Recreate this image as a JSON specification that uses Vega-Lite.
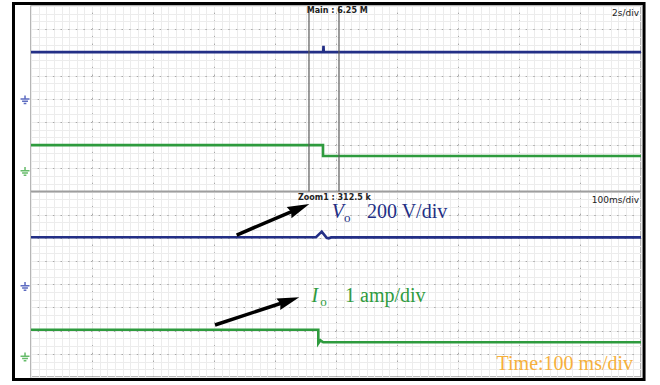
{
  "$schema": "https://vega.github.io/schema/vega-lite/v6.json",
  "width": 610,
  "height": 371,
  "autosize": {"type": "none"},
  "padding": {"left": 31, "top": 6, "right": 19, "bottom": 8},
  "background": "white",
  "config": {"view": {"stroke": "#9e9e9e", "strokeWidth": 1.5}},
  "resolve": {"axis": {"x": "independent", "y": "independent"}},
  "layer": [
    {
      "data": {"values": [
        {"key": "Vo-main", "sig": "Vo", "i": 0, "t": 0, "v": 14.01},
        {"key": "Vo-main", "sig": "Vo", "i": 1, "t": 4.79, "v": 14.01},
        {"key": "Vo-main", "sig": "Vo", "i": 2, "t": 4.795, "v": 14.28},
        {"key": "Vo-main", "sig": "Vo", "i": 3, "t": 4.8, "v": 14.01},
        {"key": "Vo-main", "sig": "Vo", "i": 4, "t": 10, "v": 14.01},
        {"key": "Io-main", "sig": "Io", "i": 0, "t": 0, "v": 10.0},
        {"key": "Io-main", "sig": "Io", "i": 1, "t": 4.787, "v": 10.0},
        {"key": "Io-main", "sig": "Io", "i": 2, "t": 4.787, "v": 9.53},
        {"key": "Io-main", "sig": "Io", "i": 3, "t": 10, "v": 9.53},
        {"key": "Vo-zoom", "sig": "Vo", "i": 0, "t": 0, "v": 6.03},
        {"key": "Vo-zoom", "sig": "Vo", "i": 1, "t": 4.672, "v": 6.03},
        {"key": "Vo-zoom", "sig": "Vo", "i": 2, "t": 4.766, "v": 6.27},
        {"key": "Vo-zoom", "sig": "Vo", "i": 3, "t": 4.847, "v": 6.0},
        {"key": "Vo-zoom", "sig": "Vo", "i": 4, "t": 4.88, "v": 5.98},
        {"key": "Vo-zoom", "sig": "Vo", "i": 5, "t": 4.92, "v": 6.02},
        {"key": "Vo-zoom", "sig": "Vo", "i": 6, "t": 10, "v": 6.02},
        {"key": "Io-zoom", "sig": "Io", "i": 0, "t": 0, "v": 2.04},
        {"key": "Io-zoom", "sig": "Io", "i": 1, "t": 4.71, "v": 2.04},
        {"key": "Io-zoom", "sig": "Io", "i": 2, "t": 4.71, "v": 1.45},
        {"key": "Io-zoom", "sig": "Io", "i": 3, "t": 4.745, "v": 1.58},
        {"key": "Io-zoom", "sig": "Io", "i": 4, "t": 4.79, "v": 1.5},
        {"key": "Io-zoom", "sig": "Io", "i": 5, "t": 10, "v": 1.5}
      ]},
      "mark": {"type": "line", "strokeWidth": 2.6, "interpolate": "linear"},
      "encoding": {
        "x": {"field": "t", "type": "quantitative",
          "scale": {"domain": [0, 10], "nice": false, "zero": false},
          "axis": {"orient": "bottom", "title": null, "labels": false, "ticks": false, "domain": false,
            "grid": true, "gridColor": "#ececec", "gridWidth": 1,
            "values": [0,0.125,0.25,0.375,0.5,0.625,0.75,0.875,1,1.125,1.25,1.375,1.5,1.625,1.75,1.875,2,2.125,2.25,2.375,2.5,2.625,2.75,2.875,3,3.125,3.25,3.375,3.5,3.625,3.75,3.875,4,4.125,4.25,4.375,4.5,4.625,4.75,4.875,5,5.125,5.25,5.375,5.5,5.625,5.75,5.875,6,6.125,6.25,6.375,6.5,6.625,6.75,6.875,7,7.125,7.25,7.375,7.5,7.625,7.75,7.875,8,8.125,8.25,8.375,8.5,8.625,8.75,8.875,9,9.125,9.25,9.375,9.5,9.625,9.75,9.875,10]}},
        "y": {"field": "v", "type": "quantitative",
          "scale": {"domain": [0, 16], "nice": false, "zero": false},
          "axis": {"orient": "left", "title": null, "labels": false, "ticks": false, "domain": false,
            "grid": true, "gridColor": "#ececec", "gridWidth": 1,
            "values": [0,0.3333,0.6667,1,1.3333,1.6667,2,2.3333,2.6667,3,3.3333,3.6667,4,4.3333,4.6667,5,5.3333,5.6667,6,6.3333,6.6667,7,7.3333,7.6667,8,8.3333,8.6667,9,9.3333,9.6667,10,10.3333,10.6667,11,11.3333,11.6667,12,12.3333,12.6667,13,13.3333,13.6667,14,14.3333,14.6667,15,15.3333,15.6667,16]}},
        "color": {"field": "sig", "type": "nominal", "legend": null,
          "scale": {"domain": ["Vo", "Io", "Vg", "Ig"], "range": ["#232f86", "#2e9b3e", "#5c6bc0", "#66bb6a"]}},
        "detail": {"field": "key"},
        "order": {"field": "i", "type": "quantitative"}
      }
    },
    {
      "data": {"values": [
        {"sig": "Vg", "t": -0.098, "v": 11.95},
        {"sig": "Ig", "t": -0.098, "v": 8.86},
        {"sig": "Vg", "t": -0.098, "v": 3.9},
        {"sig": "Ig", "t": -0.098, "v": 0.86}
      ]},
      "mark": {"type": "point", "filled": false, "strokeWidth": 1.5, "opacity": 1, "size": 81,
        "shape": "M0,-1V-0.2M-1,-0.2H1M-0.65,0.3H0.65M-0.3,0.8H0.3"},
      "encoding": {
        "x": {"field": "t", "type": "quantitative",
          "axis": {"orient": "top", "title": null, "labels": false, "ticks": false, "domain": false,
            "grid": true, "gridColor": "#a8a8a8", "gridWidth": 1, "gridDash": [1.5, 6.23],
            "values": [1,2,3,4,5,6,7,8,9]}},
        "y": {"field": "v", "type": "quantitative",
          "axis": {"orient": "right", "title": null, "labels": false, "ticks": false, "domain": false,
            "grid": true, "gridColor": "#a8a8a8", "gridWidth": 1, "gridDash": [1.5, 6.125],
            "values": [1,2,3,4,5,6,7,9,10,11,12,13,14,15]}},
        "color": {"field": "sig", "type": "nominal", "legend": null,
          "scale": {"domain": ["Vo", "Io", "Vg", "Ig"], "range": ["#232f86", "#2e9b3e", "#5c6bc0", "#66bb6a"]}}
      }
    },
    {
      "data": {"values": [{"d": 8}]},
      "mark": {"type": "rule", "color": "#9e9e9e", "strokeWidth": 1.8},
      "encoding": {"y": {"field": "d", "type": "quantitative", "axis": null}}
    },
    {
      "data": {"values": [{"c": 4.557, "lo": 8, "hi": 16}, {"c": 5.049, "lo": 8, "hi": 16}]},
      "mark": {"type": "rule", "color": "#5a5a5a", "strokeWidth": 1.2},
      "encoding": {
        "x": {"field": "c", "type": "quantitative", "axis": null},
        "y": {"field": "lo", "type": "quantitative", "axis": null},
        "y2": {"field": "hi"}
      }
    },
    {
      "data": {"values": [
        {"x1": 3.372, "y1": 6.123, "x2": 4.397, "y2": 7.275, "ang": 66.9},
        {"x1": 3.016, "y1": 2.242, "x2": 4.226, "y2": 3.29, "ang": 71.8}
      ]},
      "layer": [
        {
          "mark": {"type": "rule", "color": "black", "strokeWidth": 3.5},
          "encoding": {
            "x": {"field": "x1", "type": "quantitative", "axis": null},
            "y": {"field": "y1", "type": "quantitative", "axis": null},
            "x2": {"field": "x2"},
            "y2": {"field": "y2"}
          }
        },
        {
          "mark": {"type": "point", "filled": true, "color": "black", "opacity": 1, "size": 484,
            "shape": "M0,-1L0.55,1L0,0.8L-0.55,1Z"},
          "encoding": {
            "x": {"field": "x2", "type": "quantitative", "axis": null},
            "y": {"field": "y2", "type": "quantitative", "axis": null},
            "angle": {"field": "ang", "type": "quantitative", "scale": null}
          }
        }
      ]
    },
    {
      "data": {"values": [
        {"txt": "Main : 6.25 M", "x": 5.02, "y": 15.78},
        {"txt": "Zoom1 : 312.5 k", "x": 4.975, "y": 7.72}
      ]},
      "mark": {"type": "text", "align": "center", "baseline": "middle", "font": "DejaVu Sans", "fontSize": 8, "fontWeight": "bold", "color": "#222"},
      "encoding": {
        "x": {"field": "x", "type": "quantitative", "axis": null},
        "y": {"field": "y", "type": "quantitative", "axis": null},
        "text": {"field": "txt"}
      }
    },
    {
      "data": {"values": [
        {"txt": "2s/div", "x": 9.967, "y": 15.7},
        {"txt": "100ms/div", "x": 9.967, "y": 7.63}
      ]},
      "mark": {"type": "text", "align": "right", "baseline": "middle", "font": "DejaVu Sans", "fontSize": 9, "color": "#222"},
      "encoding": {
        "x": {"field": "x", "type": "quantitative", "axis": null},
        "y": {"field": "y", "type": "quantitative", "axis": null},
        "text": {"field": "txt"}
      }
    },
    {
      "data": {"values": [
        {"txt": "V", "x": 4.93, "y": 6.84, "sig": "Vo"},
        {"txt": "I", "x": 4.6, "y": 3.22, "sig": "Io"}
      ]},
      "mark": {"type": "text", "align": "left", "baseline": "alphabetic", "font": "Liberation Serif", "fontSize": 20, "fontStyle": "italic"},
      "encoding": {
        "x": {"field": "x", "type": "quantitative", "axis": null},
        "y": {"field": "y", "type": "quantitative", "axis": null},
        "text": {"field": "txt"},
        "color": {"field": "sig", "type": "nominal", "legend": null,
          "scale": {"domain": ["Vo", "Io", "Vg", "Ig"], "range": ["#232f86", "#2e9b3e", "#5c6bc0", "#66bb6a"]}}
      }
    },
    {
      "data": {"values": [
        {"txt": "o", "x": 5.13, "y": 6.67, "sig": "Vo"},
        {"txt": "o", "x": 4.74, "y": 3.08, "sig": "Io"}
      ]},
      "mark": {"type": "text", "align": "left", "baseline": "alphabetic", "font": "Liberation Serif", "fontSize": 13},
      "encoding": {
        "x": {"field": "x", "type": "quantitative", "axis": null},
        "y": {"field": "y", "type": "quantitative", "axis": null},
        "text": {"field": "txt"},
        "color": {"field": "sig", "type": "nominal", "legend": null,
          "scale": {"domain": ["Vo", "Io", "Vg", "Ig"], "range": ["#232f86", "#2e9b3e", "#5c6bc0", "#66bb6a"]}}
      }
    },
    {
      "data": {"values": [
        {"txt": "200 V/div", "x": 5.508, "y": 6.84, "sig": "Vo"},
        {"txt": "1 amp/div", "x": 5.148, "y": 3.22, "sig": "Io"}
      ]},
      "mark": {"type": "text", "align": "left", "baseline": "alphabetic", "font": "Liberation Serif", "fontSize": 20},
      "encoding": {
        "x": {"field": "x", "type": "quantitative", "axis": null},
        "y": {"field": "y", "type": "quantitative", "axis": null},
        "text": {"field": "txt"},
        "color": {"field": "sig", "type": "nominal", "legend": null,
          "scale": {"domain": ["Vo", "Io", "Vg", "Ig"], "range": ["#2c2f6f", "#3caa4e", "#5c6bc0", "#66bb6a"]}}
      }
    },
    {
      "data": {"values": [{"txt": "Time:100 ms/div", "x": 9.87, "y": 0.3}]},
      "mark": {"type": "text", "align": "right", "baseline": "alphabetic", "font": "Liberation Serif", "fontSize": 20, "color": "#f6b03c"},
      "encoding": {
        "x": {"field": "x", "type": "quantitative", "axis": null},
        "y": {"field": "y", "type": "quantitative", "axis": null},
        "text": {"field": "txt"}
      }
    },
    {
      "data": {"values": [{"x1": -0.287, "x2": 10.05, "y1": -0.108, "y2": 16.106}]},
      "mark": {"type": "rect", "fill": "transparent", "stroke": "black", "strokeWidth": 3},
      "encoding": {
        "x": {"field": "x1", "type": "quantitative", "axis": null},
        "x2": {"field": "x2"},
        "y": {"field": "y1", "type": "quantitative", "axis": null},
        "y2": {"field": "y2"}
      }
    }
  ]
}
